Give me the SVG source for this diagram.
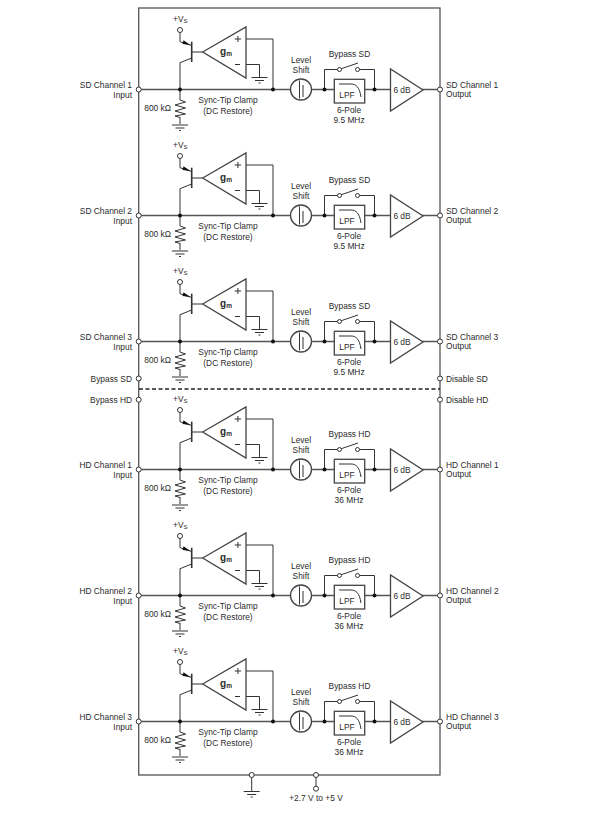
<svg xmlns="http://www.w3.org/2000/svg" width="596" height="816" viewBox="0 0 596 816">
<style>
text{font-family:"Liberation Sans",Arial,sans-serif;font-size:8.4px;fill:#2b2b2b}
.m{text-anchor:middle}.e{text-anchor:end}
.w{fill:none;stroke:#333;stroke-width:1}
.h{fill:none;stroke:#555;stroke-width:1.3}
.t{fill:none;stroke:#333;stroke-width:1.6}
.b{fill:#fff;stroke:#444;stroke-width:1.3}
.d{fill:#111}
.o{fill:#fff;stroke:#333;stroke-width:1}
.g{font-size:10px;font-weight:bold;text-anchor:middle}
.g tspan{font-size:6.5px}
</style>
<defs>
<g id="gnd"><path class="w" d="M-8 0H8M-4.500 3H4.500M-1 5.500H1"/></g>
<g id="wires">
<path class="h" d="M139 89.500H440"/>
<path class="w" d="M180 32V41.700L191.700 45.500M191.700 58L180 62.700V89.500M191.700 52H202.700M246 39H273V89.500M246 64.500H259.500V77M180 89.500V100M180 117V124M324.500 89.500V69.500H337.500M359.500 69.500H374.500V89.500"/>
</g>
<g id="amp">
<path class="b" d="M202.700 52L246 27V78Z"/>
<path class="w" d="M234.700 39H241M237.900 36V42M235 64.500H240"/>
<path class="t" d="M191.700 41.700V62"/>
<path class="d" d="M190.500 45L183.500 40.300L182.500 44Z"/>
<circle class="o" cx="180" cy="30" r="2.500"/>
<use href="#gnd" x="259.500" y="77.500"/>
</g>
<g id="res">
<path class="w" d="M180 100L185.500 102L175 105L185.500 108L175 111L185.500 114L175 116L180 117.500"/>
<use href="#gnd" x="180" y="125"/>
</g>
<g id="pins">
<circle class="d" cx="180" cy="89.500" r="2"/>
<circle class="d" cx="273" cy="89.500" r="2"/>
<circle class="d" cx="324.500" cy="89.500" r="2"/>
<circle class="d" cx="374.500" cy="89.500" r="2"/>
<circle class="o" cx="138.700" cy="89.500" r="2.500"/>
<circle class="o" cx="440" cy="89.500" r="2.500"/>
</g>
<g id="shift">
<circle class="b" cx="301" cy="89.500" r="10.500"/>
<path class="w" d="M299.500 80.500V98.500M303 85V97"/>
</g>
<g id="lpf">
<rect class="b" x="334.300" y="79.300" width="30.400" height="23.700"/>
<path class="w" d="M339 84H351C356 84 359.500 87 361 97"/>
</g>
<g id="sw">
<path class="w" d="M341 68.800L358 63"/>
<circle class="o" cx="339.500" cy="69.500" r="2"/>
<circle class="o" cx="357.500" cy="69.500" r="2"/>
</g>
<g id="gain"><path class="b" d="M390.500 69V111L423 90Z"/></g>
</defs>

<g id="chip"><rect x="138.700" y="8" width="301.300" height="767" fill="none" stroke="#555" stroke-width="1.300"/></g>

<g id="connectors">
<use href="#wires"/>
<use href="#wires" y="126"/>
<use href="#wires" y="252"/>
<use href="#wires" y="380"/>
<use href="#wires" y="506"/>
<use href="#wires" y="632"/>
<path class="h" stroke-dasharray="4 2.500" d="M139 389H440" style="stroke:#222"/>
<path class="w" d="M251.700 775V791M316 775V786"/>
</g>

<g id="sd1">
<use href="#amp"/><use href="#res"/><use href="#shift"/><use href="#lpf"/><use href="#sw"/><use href="#gain"/><use href="#pins"/>
<text x="173" y="21.700">+V<tspan font-size="6" dy="1.500">S</tspan></text>
<text x="226" y="54.500" class="g">g<tspan dy="1.500">m</tspan></text>
<text x="132" y="87.500" class="e">SD Channel 1</text><text x="132" y="97.700" class="e">Input</text>
<text x="171" y="111" class="e">800 kΩ</text>
<text x="228" y="103" class="m">Sync-Tip Clamp</text><text x="228" y="114" class="m">(DC Restore)</text>
<text x="301" y="62.700" class="m">Level</text><text x="301" y="72.700" class="m">Shift</text>
<text x="349.500" y="57.300" class="m">Bypass SD</text>
<text x="347" y="98" class="m">LPF</text>
<text x="349" y="113" class="m">6-Pole</text><text x="349" y="123" class="m">9.5 MHz</text>
<text x="402" y="92.700" class="m">6 dB</text>
<text x="446" y="87.500">SD Channel 1</text><text x="446" y="97">Output</text>
</g>

<g id="sd2" transform="translate(0 126)">
<use href="#amp"/><use href="#res"/><use href="#shift"/><use href="#lpf"/><use href="#sw"/><use href="#gain"/><use href="#pins"/>
<text x="173" y="21.700">+V<tspan font-size="6" dy="1.500">S</tspan></text>
<text x="226" y="54.500" class="g">g<tspan dy="1.500">m</tspan></text>
<text x="132" y="87.500" class="e">SD Channel 2</text><text x="132" y="97.700" class="e">Input</text>
<text x="171" y="111" class="e">800 kΩ</text>
<text x="228" y="103" class="m">Sync-Tip Clamp</text><text x="228" y="114" class="m">(DC Restore)</text>
<text x="301" y="62.700" class="m">Level</text><text x="301" y="72.700" class="m">Shift</text>
<text x="349.500" y="57.300" class="m">Bypass SD</text>
<text x="347" y="98" class="m">LPF</text>
<text x="349" y="113" class="m">6-Pole</text><text x="349" y="123" class="m">9.5 MHz</text>
<text x="402" y="92.700" class="m">6 dB</text>
<text x="446" y="87.500">SD Channel 2</text><text x="446" y="97">Output</text>
</g>

<g id="sd3" transform="translate(0 252)">
<use href="#amp"/><use href="#res"/><use href="#shift"/><use href="#lpf"/><use href="#sw"/><use href="#gain"/><use href="#pins"/>
<text x="173" y="21.700">+V<tspan font-size="6" dy="1.500">S</tspan></text>
<text x="226" y="54.500" class="g">g<tspan dy="1.500">m</tspan></text>
<text x="132" y="87.500" class="e">SD Channel 3</text><text x="132" y="97.700" class="e">Input</text>
<text x="171" y="111" class="e">800 kΩ</text>
<text x="228" y="103" class="m">Sync-Tip Clamp</text><text x="228" y="114" class="m">(DC Restore)</text>
<text x="301" y="62.700" class="m">Level</text><text x="301" y="72.700" class="m">Shift</text>
<text x="349.500" y="57.300" class="m">Bypass SD</text>
<text x="347" y="98" class="m">LPF</text>
<text x="349" y="113" class="m">6-Pole</text><text x="349" y="123" class="m">9.5 MHz</text>
<text x="402" y="92.700" class="m">6 dB</text>
<text x="446" y="87.500">SD Channel 3</text><text x="446" y="97">Output</text>
</g>

<g id="hd1" transform="translate(0 380)">
<use href="#amp"/><use href="#res"/><use href="#shift"/><use href="#lpf"/><use href="#sw"/><use href="#gain"/><use href="#pins"/>
<text x="173" y="21.700">+V<tspan font-size="6" dy="1.500">S</tspan></text>
<text x="226" y="54.500" class="g">g<tspan dy="1.500">m</tspan></text>
<text x="132" y="87.500" class="e">HD Channel 1</text><text x="132" y="97.700" class="e">Input</text>
<text x="171" y="111" class="e">800 kΩ</text>
<text x="228" y="103" class="m">Sync-Tip Clamp</text><text x="228" y="114" class="m">(DC Restore)</text>
<text x="301" y="62.700" class="m">Level</text><text x="301" y="72.700" class="m">Shift</text>
<text x="349.500" y="57.300" class="m">Bypass HD</text>
<text x="347" y="98" class="m">LPF</text>
<text x="349" y="113" class="m">6-Pole</text><text x="349" y="123" class="m">36 MHz</text>
<text x="402" y="92.700" class="m">6 dB</text>
<text x="446" y="87.500">HD Channel 1</text><text x="446" y="97">Output</text>
</g>

<g id="hd2" transform="translate(0 506)">
<use href="#amp"/><use href="#res"/><use href="#shift"/><use href="#lpf"/><use href="#sw"/><use href="#gain"/><use href="#pins"/>
<text x="173" y="21.700">+V<tspan font-size="6" dy="1.500">S</tspan></text>
<text x="226" y="54.500" class="g">g<tspan dy="1.500">m</tspan></text>
<text x="132" y="87.500" class="e">HD Channel 2</text><text x="132" y="97.700" class="e">Input</text>
<text x="171" y="111" class="e">800 kΩ</text>
<text x="228" y="103" class="m">Sync-Tip Clamp</text><text x="228" y="114" class="m">(DC Restore)</text>
<text x="301" y="62.700" class="m">Level</text><text x="301" y="72.700" class="m">Shift</text>
<text x="349.500" y="57.300" class="m">Bypass HD</text>
<text x="347" y="98" class="m">LPF</text>
<text x="349" y="113" class="m">6-Pole</text><text x="349" y="123" class="m">36 MHz</text>
<text x="402" y="92.700" class="m">6 dB</text>
<text x="446" y="87.500">HD Channel 2</text><text x="446" y="97">Output</text>
</g>

<g id="hd3" transform="translate(0 632)">
<use href="#amp"/><use href="#res"/><use href="#shift"/><use href="#lpf"/><use href="#sw"/><use href="#gain"/><use href="#pins"/>
<text x="173" y="21.700">+V<tspan font-size="6" dy="1.500">S</tspan></text>
<text x="226" y="54.500" class="g">g<tspan dy="1.500">m</tspan></text>
<text x="132" y="87.500" class="e">HD Channel 3</text><text x="132" y="97.700" class="e">Input</text>
<text x="171" y="111" class="e">800 kΩ</text>
<text x="228" y="103" class="m">Sync-Tip Clamp</text><text x="228" y="114" class="m">(DC Restore)</text>
<text x="301" y="62.700" class="m">Level</text><text x="301" y="72.700" class="m">Shift</text>
<text x="349.500" y="57.300" class="m">Bypass HD</text>
<text x="347" y="98" class="m">LPF</text>
<text x="349" y="113" class="m">6-Pole</text><text x="349" y="123" class="m">36 MHz</text>
<text x="402" y="92.700" class="m">6 dB</text>
<text x="446" y="87.500">HD Channel 3</text><text x="446" y="97">Output</text>
</g>

<g id="bypass-sd"><circle class="o" cx="138.700" cy="378.500" r="2.500"/><text x="132" y="382" class="e">Bypass SD</text></g>
<g id="bypass-hd"><circle class="o" cx="138.700" cy="399.700" r="2.500"/><text x="132" y="403" class="e">Bypass HD</text></g>
<g id="disable-sd"><circle class="o" cx="440" cy="378.500" r="2.500"/><text x="446" y="382">Disable SD</text></g>
<g id="disable-hd"><circle class="o" cx="440" cy="399.700" r="2.500"/><text x="446" y="403">Disable HD</text></g>
<g id="ground"><circle class="o" cx="251.700" cy="775" r="2.500"/><use href="#gnd" x="251.700" y="791.500"/></g>
<g id="supply"><circle class="o" cx="316" cy="775" r="2.500"/><circle class="o" cx="316" cy="788.700" r="2.500"/><text x="316" y="800.700" class="m">+2.7 V to +5 V</text></g>
</svg>
